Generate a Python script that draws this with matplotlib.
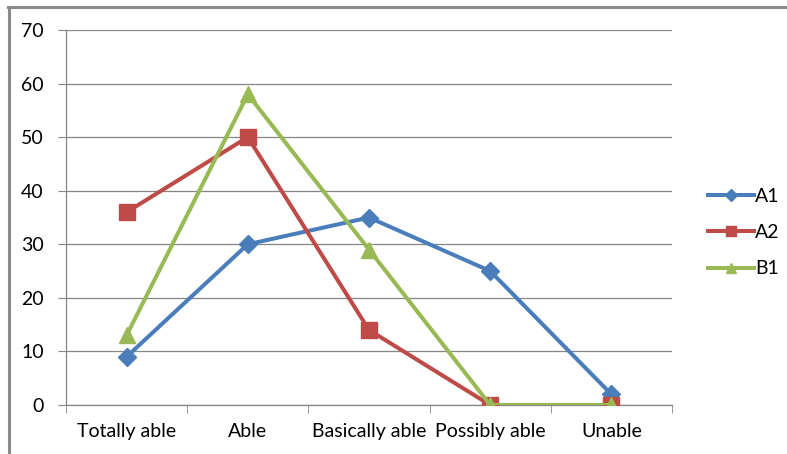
import matplotlib
matplotlib.use("Agg")
import matplotlib.pyplot as plt
from matplotlib.lines import Line2D

categories = ["Totally able", "Able", "Basically able", "Possibly able", "Unable"]
series_names = ["A1", "A2", "B1"]
a1 = [9, 30, 35, 25, 2]
a2 = [36, 50, 14, 0, 0]
b1 = [13, 58, 29, 0, 0]
y_ticks = [0, 10, 20, 30, 40, 50, 60, 70]

colors = ["#4a7ebb", "#be4b48", "#98b954"]
markers = ["D", "s", "^"]
msizes = [9, 12, 12]

plt.rcParams['font.family'] = ['Lato', 'DejaVu Sans']

fig = plt.figure(figsize=(7.87, 4.54), dpi=100)
ax = fig.add_axes([66/787, 1 - 405/454, (672-66)/787, (405-30)/454])

x = list(range(len(categories)))
for vals, name, c, m, ms in zip([a1, a2, b1], series_names, colors, markers, msizes):
    ax.plot(x, vals, color=c, lw=2.9, marker=m, markersize=ms,
            markerfacecolor=c, markeredgecolor=c, label=name, zorder=3)

ax.set_xlim(-0.5, len(categories) - 0.5)
ax.set_ylim(0, 70)
ax.set_yticks(y_ticks)
ax.set_xticks(x)
ax.set_xticklabels(categories)
ax.set_xticks([i - 0.5 for i in range(len(categories) + 1)], minor=True)
ax.tick_params(axis='x', which='major', length=0, pad=13, labelsize=14)
ax.tick_params(axis='x', which='minor', length=6, color='#868686', direction='out')
ax.tick_params(axis='y', length=6, color='#868686', labelsize=14, pad=10)
ax.yaxis.grid(True, color='#868686', lw=0.9)
ax.set_axisbelow(True)
for s in ['top', 'right']:
    ax.spines[s].set_visible(False)
for s in ['left', 'bottom']:
    ax.spines[s].set_color('#868686')
    ax.spines[s].set_linewidth(0.9)

leg = ax.legend(loc='center left', bbox_to_anchor=(1.03, 0.46), frameon=False,
                fontsize=14, handlelength=2.4, handletextpad=0.05, labelspacing=1.0,
                markerscale=0.65)

# outer border (top and left visible)
fig.add_artist(Line2D([8/787, 1], [1 - 6.5/454, 1 - 6.5/454], color='#8a8a8a', lw=2.2))
fig.add_artist(Line2D([9/787, 9/787], [0, 1 - 6.5/454], color='#8a8a8a', lw=2.2))

fig.savefig("out.png", dpi=100, facecolor='white')
